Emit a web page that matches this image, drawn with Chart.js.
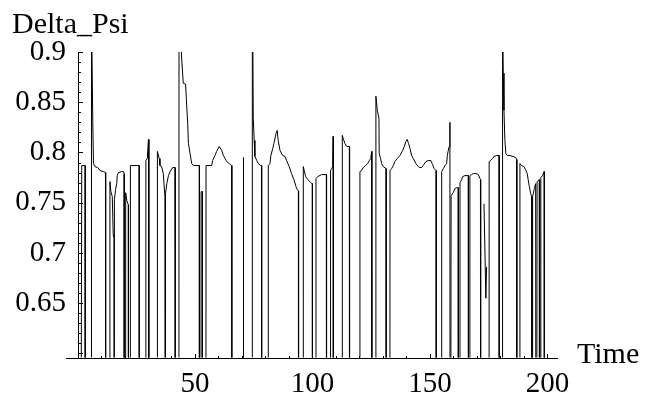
<!DOCTYPE html>
<html>
<head>
<meta charset="utf-8">
<script src="https://cdn.jsdelivr.net/npm/chart.js@4.4.1/dist/chart.umd.min.js"></script>
<style>
  html, body { margin: 0; padding: 0; background: #fff; }
  canvas { display: block; }
</style>
</head>
<body>
<canvas id="psiChart" width="645" height="401"></canvas>
<script>
// Delta_Psi against Time. 0 = dropout (falls below the axis), null = break in the line
const times = [
    1.0, 1.8, 3.2, 3.3,
    5.8, 5.95, 6.5, 6.8, 7.4, 8.6, 9.6, 11.0, 11.9, 12.0,
    13.7, 13.8, 14.2, 14.8, 15.2, 15.5, 15.6,
    15.7, 16.2, 16.7, 16.9, 17.4, 18.8, 19.5, 19.8, 19.9,
    20.4, 20.5, 21.0, 21.6, 21.7,
    22.4, 22.5, 26.2, 26.3,
    29.0, 29.1, 29.7, 30.2, 30.4,
    33.9, 34.0, 34.8, 35.1, 35.8, 36.5, 37.2, 37.3, 37.4, 37.5, 38.0, 38.7, 39.4, 40.5, 41.5, 41.6,
    43.1, 43.2, 43.9, 44.3, 45.0, 46.0, 46.5, 46.9, 47.2, 47.9, 48.6, 49.3, 51.8, 51.9,
    52.5, 52.6, 53.1, 53.2,
    54.6, 54.7, 57.1, 57.5, 58.5, 59.2, 60.3, 61.4, 62.1, 62.8, 63.5, 64.6, 65.6, 65.7,
    70.5, 70.6, 70.7,
    74.3, 74.4, 74.8, 75.2, 75.5, 76.3, 76.9, 77.9, 78.3, 78.4,
    81.1, 81.2, 81.9, 82.3, 83.1, 83.6, 84.5, 85.0, 85.4, 86.2, 87.3, 88.3, 89.0, 90.1, 91.1, 92.1, 93.0, 93.5, 94.0, 94.1,
    96.0, 96.1, 96.5, 97.1, 98.0, 98.9, 99.7, 99.9, 100.0,
    101.4, 101.5, 102.2, 103.9, 105.9, 106.0,
    107.6, 107.7, 108.2, 108.6, 108.8, 108.9,
    112.6, 112.7, 113.1, 113.8, 114.6, 115.7, 115.8,
    120.1, 120.2, 120.9, 121.6, 122.6, 123.5, 124.2, 124.8, 125.2, 125.3,
    126.9, 127.0, 127.6, 128.3, 128.4, 129.0, 129.4, 130.1, 131.3, 131.4,
    132.9, 133.0, 133.7, 134.4, 135.1, 136.1, 137.2, 138.4, 139.1, 139.8, 140.3, 140.9, 141.5, 142.2, 142.9,
    144.0, 145.0, 145.7, 146.5, 147.1, 148.3, 149.3, 150.4, 151.1, 151.8, 152.6, 152.7,
    154.9, 155.0, 155.7, 156.4, 157.1, 157.4, 157.8, 158.2, 158.5, 158.6,
    158.9, 159.0, 159.9, 160.6, 161.4, 162.0, 162.1,
    162.7, 162.8, 163.5, 163.9, 164.9, 166.3, 166.4, 166.9, 167.0, 167.7, 168.4, 169.6, 170.6, 171.3, 171.5, 171.6,
    172.5, 173.0, 173.8, 174.1, 174.5,
    175.1, 175.2, 175.8, 176.7, 177.2, 178.4, 179.4, 179.5,
    180.8, 180.9, 181.2, 181.5, 181.9, 182.3, 182.9, 184.0, 185.4, 185.7, 186.5, 186.9, 187.0,
    188.2, 188.3, 189.0, 190.0, 190.9, 191.4, 191.8, 192.3, 192.9, 193.3, 193.4,
    193.6, 193.7, 194.0, 194.4, 195.0, 195.2, 195.4, 195.6, 196.5, 196.7,
    196.9, 197.2, 197.9, 198.6, 198.7, 200.0
];
const psi = [
    0, 0.787, 0.787, 0,
    0, 0.94, 0.83, 0.789, 0.786, 0.785, 0.782, 0.781, 0.780, 0,
    0, 0.771, 0.761, 0.756, 0.718, 0.716, 0,
    0.753, 0.763, 0.769, 0.777, 0.780, 0.781, 0.781, 0.779, 0,
    0, 0.760, 0.752, 0.748, 0,
    0, 0.787, 0.787, 0,
    0, 0.792, 0.794, 0.813, 0,
    0, 0.801, 0.794, 0.787, 0.786, 0.779, 0.756, 0, 0, 0.759, 0.769, 0.777, 0.781, 0.785, 0.785, 0,
    0, 0.93, 0.92, 0.895, 0.869, 0.868, 0.845, 0.829, 0.809, 0.799, 0.789, 0.787, 0.787, 0,
    0, 0.761, 0.761, 0,
    0, 0.787, 0.787, 0.792, 0.797, 0.801, 0.806, 0.802, 0.797, 0.794, 0.791, 0.789, 0.787, 0,
    0, 0.795, 0,
    0, 1.0, 0.835, 0.812, 0.796, 0.792, 0.789, 0.787, 0.787, 0,
    0, 0.787, 0.789, 0.797, 0.804, 0.809, 0.819, 0.822, 0.812, 0.802, 0.797, 0.796, 0.792, 0.786, 0.779, 0.773, 0.766, 0.763, 0.762, 0,
    0, 0.786, 0.782, 0.776, 0.773, 0.771, 0.769, 0.769, 0,
    0, 0.774, 0.776, 0.778, 0.778, 0,
    0, 0.782, 0.784, 0.786, 0.816, 0,
    0, 0.817, 0.814, 0.809, 0.806, 0.806, 0,
    0, 0.781, 0.782, 0.785, 0.787, 0.789, 0.792, 0.794, 0.801, 0,
    0, 0.856, 0.842, 0.834, 0.799, 0.794, 0.789, 0.786, 0.784, 0,
    0, 0.782, 0.784, 0.787, 0.791, 0.794, 0.797, 0.802, 0.806, 0.811, 0.813, 0.809, 0.804, 0.797, 0.794,
    0.789, 0.786, 0.785, 0.785, 0.787, 0.791, 0.792, 0.792, 0.788, 0.784, 0.782, 0,
    0, 0.781, 0.784, 0.787, 0.789, 0.797, 0.802, 0.806, 0.830, 0,
    0, 0.757, 0.760, 0.764, 0.765, 0.765, 0,
    0, 0.770, 0.773, 0.776, 0.777, 0.777, 0, 0, 0.777, 0.778, 0.779, 0.779, 0.778, 0.774, 0.773, 0,
    null, 0.749, 0.655, 0.686, null,
    0, 0.791, 0.792, 0.794, 0.796, 0.797, 0.797, 0,
    0, 0.95, 0.879, 0.842, 0.812, 0.799, 0.797, 0.797, 0.796, 0.796, 0.795, 0.793, 0,
    0, 0.789, 0.787, 0.786, 0.782, 0.779, 0.773, 0.766, 0.759, 0.756, 0,
    0, 0.757, 0.759, 0.764, 0.769, 0, 0, 0.771, 0.773, 0,
    0, 0.775, 0.777, 0.781, 0, 0
];

const xTickValues = [50, 100, 150, 200];
const yTickValues = [0.65, 0.7, 0.75, 0.8, 0.85, 0.9];
const xTitle = 'Time';
const yTitle = 'Delta_Psi';

const serif = '"Liberation Serif", "Times New Roman", serif';

// Mathematica style axes: y axis crosses at Time = 0, ticks point inwards
const axesPlugin = {
    id: 'mathAxes',
    afterDraw(chart) {
        const ctx = chart.ctx;
        const xs = chart.scales.x;
        const ys = chart.scales.y;
        const area = chart.chartArea;
        const x0 = Math.round(xs.getPixelForValue(0)) + 0.5;
        const yb = Math.round(area.bottom) + 0.5;

        ctx.save();
        ctx.strokeStyle = '#000';
        ctx.lineWidth = 1;
        ctx.beginPath();
        ctx.moveTo(area.left, yb);
        ctx.lineTo(area.right, yb);
        ctx.moveTo(x0, area.top);
        ctx.lineTo(x0, yb);

        for (let t = 10; t <= 200; t += 10) {
            const px = Math.round(xs.getPixelForValue(t)) + 0.5;
            const len = t % 50 === 0 ? 4.5 : 2.5;
            ctx.moveTo(px, yb);
            ctx.lineTo(px, yb - len);
        }
        for (let i = 60; i <= 90; i++) {
            const py = Math.round(ys.getPixelForValue(i / 100)) + 0.5;
            const len = i % 5 === 0 ? 4.5 : 2.5;
            ctx.moveTo(x0, py);
            ctx.lineTo(x0 + len, py);
        }
        ctx.stroke();

        ctx.fillStyle = '#000';
        ctx.font = '30px ' + serif;
        ctx.textBaseline = 'alphabetic';
        ctx.textAlign = 'left';
        ctx.fillText(yTitle, 12, 33);
        ctx.fillText(xTitle, 577, 363);
        ctx.restore();
    }
};

window.onload = function () {
    const points = times.map((t, i) => ({ x: t, y: psi[i] }));

    new Chart(document.getElementById('psiChart'), {
        type: 'line',
        data: {
            datasets: [{
                data: points,
                borderColor: '#000',
                borderWidth: 1,
                pointRadius: 0,
                tension: 0,
                spanGaps: false,
                clip: 0
            }]
        },
        options: {
            responsive: false,
            animation: false,
            devicePixelRatio: 1,
            layout: { padding: { top: 52, right: 87, left: 0, bottom: 0 } },
            plugins: {
                legend: { display: false },
                tooltip: { enabled: false }
            },
            scales: {
                x: {
                    type: 'linear',
                    min: -4.9,
                    max: 204.5,
                    grid: { display: false, drawTicks: false },
                    border: { display: false },
                    ticks: {
                        color: '#000',
                        font: { family: serif, size: 29 },
                        padding: 9,
                        maxRotation: 0,
                        autoSkip: false
                    },
                    afterBuildTicks: (scale) => {
                        scale.ticks = xTickValues.map(v => ({ value: v }));
                    },
                    afterFit: (scale) => { scale.height = 43.5; }
                },
                y: {
                    type: 'linear',
                    min: 0.596,
                    max: 0.9,
                    grid: { display: false, drawTicks: false },
                    border: { display: false },
                    ticks: {
                        color: '#000',
                        font: { family: serif, size: 29 },
                        padding: 0,
                        callback: (v) => String(v)
                    },
                    afterBuildTicks: (scale) => {
                        scale.ticks = yTickValues.map(v => ({ value: v }));
                    },
                    afterFit: (scale) => { scale.width = 66; }
                }
            }
        },
        plugins: [axesPlugin]
    });
};
</script>
</body>
</html>
